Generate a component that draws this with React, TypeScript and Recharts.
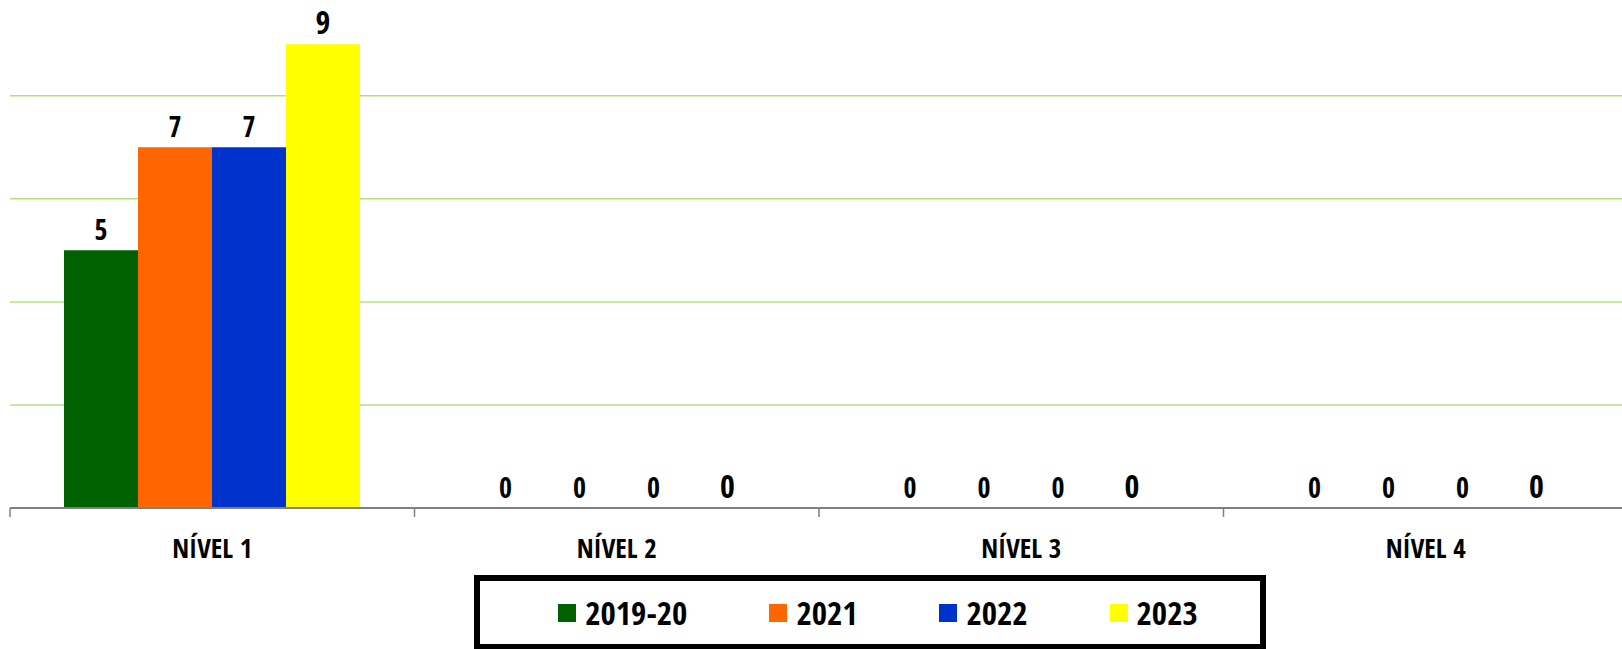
import React from 'react';
import { BarChart, Bar, XAxis, YAxis, CartesianGrid, LabelList, Legend } from 'recharts';

const categories = ['NÍVEL 1', 'NÍVEL 2', 'NÍVEL 3', 'NÍVEL 4'];
const seriesNames = ['2019-20', '2021', '2022', '2023'];
const values2019_20 = [5, 0, 0, 0];
const values2021 = [7, 0, 0, 0];
const values2022 = [7, 0, 0, 0];
const values2023 = [9, 0, 0, 0];
const yTicks = [0, 2, 4, 6, 8];
const gridValues = [2, 4, 6, 8];
const colors = ['#006100', '#FF6600', '#0033CC', '#FFFF00'];

const FONT = "'Open Sans Condensed', 'Open Sans', sans-serif";

const data = categories.map((name, i) => ({
  name,
  s0: values2019_20[i],
  s1: values2021[i],
  s2: values2022[i],
  s3: values2023[i],
}));

const CategoryTick = (props: any) => {
  const { x, y, payload, width, visibleTicksCount } = props;
  const band = width && visibleTicksCount ? width / visibleTicksCount : 404;
  return (
    <g>
      <line x1={x - band / 2} x2={x - band / 2} y1={y} y2={y + 9} stroke="#808080" strokeWidth={1.5} />
      <text x={x} y={y + 50} textAnchor="middle" fontFamily={FONT} fontStretch="condensed" fontWeight={700} fontSize={27} fill="#000">
        {payload.value}
      </text>
    </g>
  );
};

const makeLabel = (size: number) => (props: any) => {
  const { x, y, width, value } = props;
  return (
    <text
      x={x + width / 2}
      y={y - 10}
      textAnchor="middle"
      fontFamily={FONT}
      fontStretch="condensed"
      fontWeight={700}
      fontSize={size}
      fill="#000"
    >
      {value}
    </text>
  );
};

const renderLegend = () => (
  <div
    style={{
      boxSizing: 'border-box',
      width: 792,
      height: 75,
      border: '6px solid #000',
      display: 'flex',
      alignItems: 'center',
      justifyContent: 'center',
      gap: 82,
      paddingLeft: 16,
      background: '#fff',
    }}
  >
    {seriesNames.map((n, i) => (
      <div key={n} style={{ display: 'flex', alignItems: 'center' }}>
        <span style={{ display: 'inline-block', width: 18, height: 18, background: colors[i], marginRight: 9 }} />
        <span style={{ fontFamily: FONT, fontStretch: 'condensed', fontWeight: 'bold', fontSize: 33, color: '#000', lineHeight: 1 }}>{n}</span>
      </div>
    ))}
  </div>
);

export default function App() {
  const keys = ['s0', 's1', 's2', 's3'];
  return (
    <div style={{ position: 'absolute', left: 0, top: 0, width: 1622, height: 649, overflow: 'hidden', background: '#fff' }}>
      <BarChart
        width={1628}
        height={649}
        data={data}
        margin={{ top: 3, right: 0, left: 10, bottom: 0 }}
        barCategoryGap={54}
        barGap={0}
      >
        <CartesianGrid horizontal vertical={false} horizontalValues={gridValues} stroke="#B3E07F" strokeWidth={1.5} />
        <YAxis hide domain={[0, 9.8]} ticks={yTicks} />
        <XAxis
          dataKey="name"
          height={141}
          tickLine={false}
          tickSize={0}
          tickMargin={0}
          axisLine={{ stroke: '#808080', strokeWidth: 2 }}
          tick={<CategoryTick />}
          interval={0}
        />
        <Legend
          layout="horizontal"
          verticalAlign="middle"
          align="center"
          content={renderLegend}
          wrapperStyle={{ left: 474, top: 575, width: 792, height: 75 }}
        />
        {keys.map((k, i) => (
          <Bar key={k} dataKey={k} name={seriesNames[i]} fill={colors[i]} minPointSize={0.01} isAnimationActive={false}>
            <LabelList dataKey={k} content={makeLabel(i === 3 ? 32 : 28)} />
          </Bar>
        ))}
      </BarChart>
    </div>
  );
}
